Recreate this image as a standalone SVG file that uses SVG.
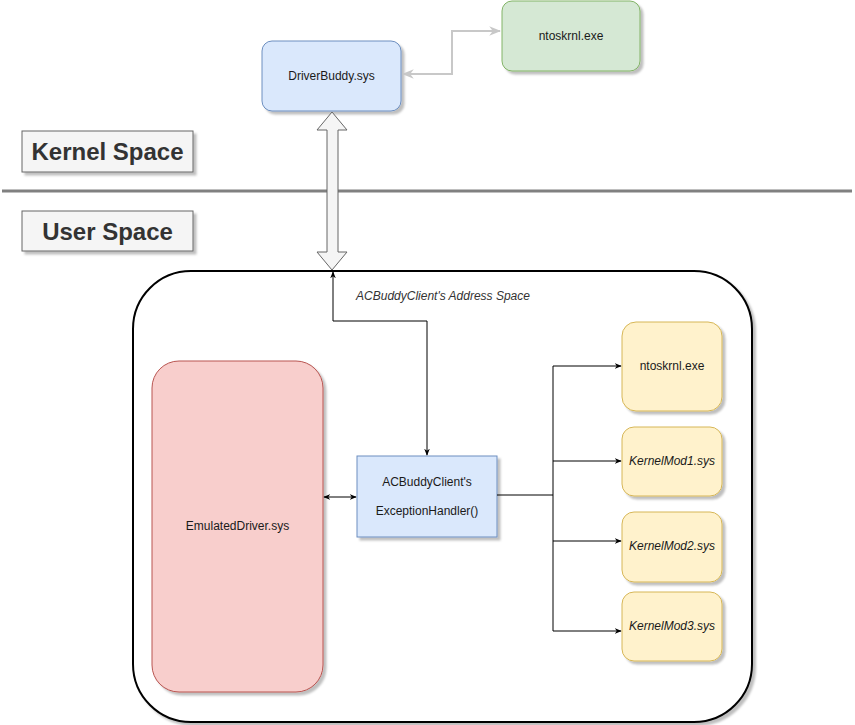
<svg xmlns="http://www.w3.org/2000/svg" width="855" height="725" viewBox="0 0 855 725">
<style>
text{font-family:"Liberation Sans",Arial,sans-serif;font-size:12px;fill:#1a1a1a;text-anchor:middle;dominant-baseline:central}
.it{font-style:italic}
.big{font-size:24px;font-weight:bold;fill:#333}
.lbl{font-size:12px;font-style:italic;fill:#333}
.blue{fill:#dae8fc;stroke:#6c8ebf;stroke-width:1}
.green{fill:#d5e8d4;stroke:#82b366;stroke-width:1}
.yellow{fill:#fff2cc;stroke:#d6b656;stroke-width:1}
.red{fill:#f8cecc;stroke:#b85450;stroke-width:1}
.grey{fill:#f5f5f5;stroke:#666;stroke-width:1}
.line{fill:none;stroke:#000;stroke-width:1}
</style>
<defs>
<filter id="sh" x="-10%" y="-10%" width="130%" height="130%">
<feDropShadow dx="3" dy="3" stdDeviation="0.8" flood-color="#000" flood-opacity="0.25"/>
</filter>
<marker id="ah" viewBox="0 0 10 10" refX="9" refY="5" markerWidth="7" markerHeight="7" orient="auto-start-reverse" markerUnits="userSpaceOnUse">
<path d="M0,1 L10,5 L0,9 L3,5 Z" fill="#000"/>
</marker>
<marker id="ag" viewBox="0 0 10 10" refX="9" refY="5" markerWidth="12" markerHeight="12" orient="auto-start-reverse" markerUnits="userSpaceOnUse">
<path d="M0,1 L10,5 L0,9 L3,5 Z" fill="#c8c8c8"/>
</marker>
</defs>
<rect width="855" height="725" fill="#fff"/>

<g id="divider">
<line x1="2" y1="191" x2="852" y2="191" stroke="#808080" stroke-width="3"/>
</g>

<g id="kernel-space">
<rect x="22" y="131" width="171" height="41" class="grey" filter="url(#sh)"/>
<text x="107.5" y="151.5" class="big">Kernel Space</text>
</g>
<g id="user-space">
<rect x="22" y="211" width="171" height="40" class="grey" filter="url(#sh)"/>
<text x="107.5" y="231" class="big">User Space</text>
</g>

<g id="address-space">
<rect x="133" y="271" width="619" height="451" rx="58" ry="58" fill="#fff" stroke="#000" stroke-width="2" filter="url(#sh)"/>
<text x="443" y="296" class="lbl">ACBuddyClient's Address Space</text>
</g>

<g id="driverbuddy">
<rect x="262" y="41" width="139" height="70" rx="10" class="blue" stroke-width="2" filter="url(#sh)"/>
<text x="331.5" y="76">DriverBuddy.sys</text>
</g>
<g id="ntoskrnl-kernel">
<rect x="502" y="1" width="138" height="70" rx="10" class="green" stroke-width="2" filter="url(#sh)"/>
<text x="571" y="36">ntoskrnl.exe</text>
</g>

<g id="emulateddriver">
<rect x="152" y="361" width="171" height="331" rx="27" class="red" filter="url(#sh)"/>
<text x="237.5" y="526">EmulatedDriver.sys</text>
</g>
<g id="exceptionhandler">
<rect x="357" y="456" width="140" height="81" class="blue" filter="url(#sh)"/>
<text x="427" y="482">ACBuddyClient's</text>
<text x="427" y="511">ExceptionHandler()</text>
</g>
<g id="ntoskrnl-user">
<rect x="622" y="322" width="100" height="89" rx="14" class="yellow" filter="url(#sh)"/>
<text x="672" y="366">ntoskrnl.exe</text>
</g>
<g id="kernelmod1">
<rect x="622" y="427" width="100" height="69" rx="12" class="yellow" filter="url(#sh)"/>
<text x="672" y="461" class="it">KernelMod1.sys</text>
</g>
<g id="kernelmod2">
<rect x="622" y="512" width="100" height="70" rx="12" class="yellow" filter="url(#sh)"/>
<text x="672" y="546" class="it">KernelMod2.sys</text>
</g>
<g id="kernelmod3">
<rect x="622" y="592" width="100" height="69" rx="12" class="yellow" filter="url(#sh)"/>
<text x="672" y="626" class="it">KernelMod3.sys</text>
</g>

<g id="connectors">
<polyline points="403,74 452,74 452,31 500,31" fill="none" stroke="#c8c8c8" stroke-width="2" marker-start="url(#ag)" marker-end="url(#ag)"/>
<polygon points="332,112 347,130 338,130 338,252 347,252 332,270 317,252 327,252 327,130 317,130" fill="#f5f5f5" stroke="#666" stroke-width="1"/>
<polyline points="427,455 427,321 333,321 333,272" class="line" marker-start="url(#ah)" marker-end="url(#ah)"/>
<line x1="324" y1="497" x2="356" y2="497" class="line" marker-start="url(#ah)" marker-end="url(#ah)"/>
<polyline points="497,495 553,495" class="line"/>
<line x1="553" y1="366" x2="553" y2="631" class="line"/>
<line x1="553" y1="366" x2="621" y2="366" class="line" marker-end="url(#ah)"/>
<line x1="553" y1="461" x2="621" y2="461" class="line" marker-end="url(#ah)"/>
<line x1="553" y1="541" x2="621" y2="541" class="line" marker-end="url(#ah)"/>
<line x1="553" y1="631" x2="621" y2="631" class="line" marker-end="url(#ah)"/>
</g>
</svg>
